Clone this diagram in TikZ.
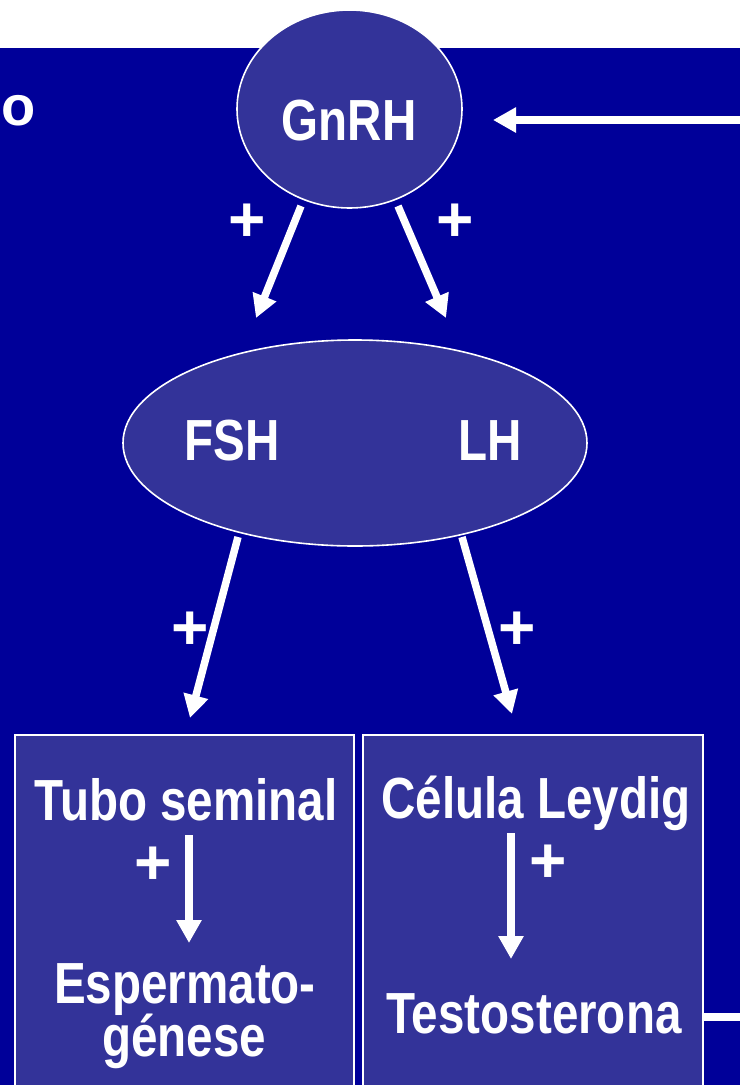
\documentclass[tikz,border=0pt]{standalone}
\usepackage{fontspec}
\setmainfont{Liberation Sans}[FakeStretch=0.82]
\newfontfamily\widefont{Liberation Sans}
\usetikzlibrary{arrows.meta,shapes.geometric}
\definecolor{bgblue}{HTML}{000099}
\definecolor{nodeblue}{HTML}{333399}
\begin{document}
\begin{tikzpicture}[x=1pt,y=-1pt,
  txt/.style={text=white,font=\fontsize{58}{60}\selectfont\bfseries,inner sep=0pt},
  letter/.style={text=white,font=\widefont\fontsize{56}{60}\selectfont\bfseries,inner sep=0pt},
  sign/.style={text=white,font=\widefont\fontsize{64}{66}\selectfont\bfseries,inner sep=0pt},
  hormone/.style={ellipse,draw=white,line width=1.6pt,fill=nodeblue},
  organ/.style={draw=white,line width=1.6pt,fill=nodeblue},
  link/.style={draw=white,line width=7.5pt,-{Triangle[length=23pt,width=24pt]}},
  plain/.style={draw=white,line width=7.5pt}]
\useasboundingbox (0,0) rectangle (740,1085);
\fill[white] (0,0) rectangle (740,48);
\fill[bgblue] (0,48) rectangle (740,1085);
% boxes
\draw[organ] (15,735) rectangle (354,1095);
\draw[organ] (363,735) rectangle (703,1095);
% ellipses
\node[hormone,minimum width=225pt,minimum height=198pt] (gnrh) at (349.5,109) {};
\node[hormone,minimum width=464pt,minimum height=206pt] (fshlh) at (355,443) {};
% texts
\node[txt,anchor=base] (gnrhtxt) at (349,140) {GnRH};
\node[txt,anchor=base] (fsh) at (232,460) {FSH};
\node[txt,anchor=base] (lh) at (490,460) {LH};
\node[txt,anchor=base] (tubo) at (186,820) {Tubo seminal};
\node[txt,anchor=base] (esp) at (185,1003) {Espermato-};
\node[txt,anchor=base] (gen) at (184,1056) {génese};
\node[txt,anchor=base] (leydig) at (536,818) {Célula Leydig};
\node[txt,anchor=base] (testo) at (534,1033) {Testosterona};
\node[letter,anchor=base] (o) at (19,125) {o};
% plus signs
\node[sign] (p1) at (247.5,223) {+};
\node[sign] (p2) at (455,223) {+};
\node[sign] (p3) at (190,631) {+};
\node[sign] (p4) at (517,631) {+};
\node[sign] (p5) at (153.5,866) {+};
\node[sign] (p6) at (548,864) {+};
% coordinates
\coordinate (t1) at (256,318);
\coordinate (t2) at (446,318);
\coordinate (t3) at (190,718);
\coordinate (t4) at (512,714);
\coordinate (s1) at (301,206);
\coordinate (s2) at (398,206);
\coordinate (s3) at (238,537);
\coordinate (s4) at (462,537);
\coordinate (a1) at (189,835);
\coordinate (b1) at (189,943);
\coordinate (a2) at (511,833);
\coordinate (b2) at (511,959);
\coordinate (rtop) at (740,120);
\coordinate (gin) at (493,120);
\coordinate (rbot) at (740,1017);
% connectors
\draw[link] (s1) -- (t1);
\draw[link] (s2) -- (t2);
\draw[link] (s3) -- (t3);
\draw[link] (s4) -- (t4);
\draw[link] (a1) -- (b1);
\draw[link] (a2) -- (b2);
\draw[link] (rtop) -- (gin);
\draw[plain] (703,1017) -- (rbot);
\end{tikzpicture}
\end{document}
